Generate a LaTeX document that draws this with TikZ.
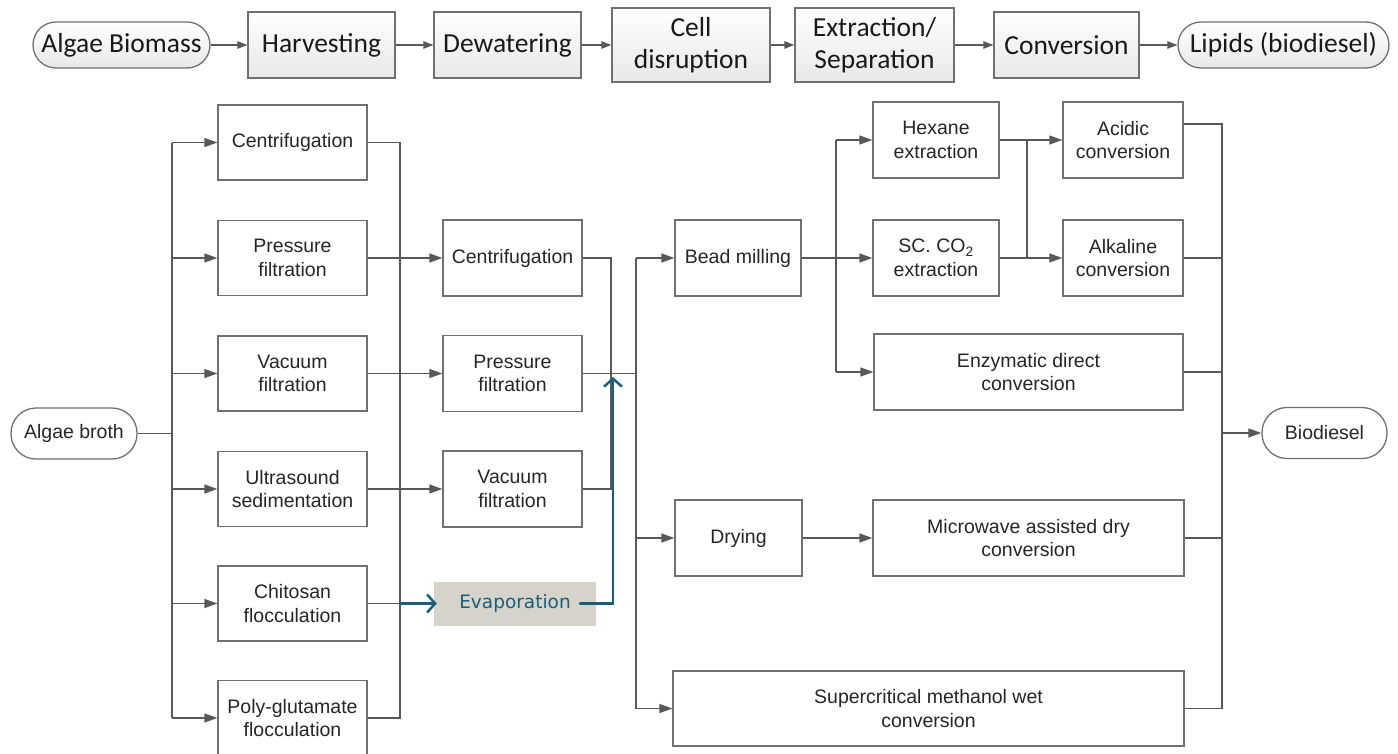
\documentclass[tikz,border=0pt]{standalone}
\usepackage{fontspec}
\setmainfont{Liberation Sans}
\newfontfamily\stagefont{Carlito}
\newfontfamily\notefont{DejaVu Sans}
\usetikzlibrary{arrows.meta,calc}

\definecolor{linegray}{RGB}{88,88,88}
\definecolor{boxgray}{RGB}{112,112,112}
\definecolor{noteteal}{RGB}{27,94,122}
\definecolor{notefill}{RGB}{214,211,203}

\begin{document}
\begin{tikzpicture}[x=1bp,y=-1bp,
  sz/.style 2 args={minimum width=#1bp, minimum height=#2bp},
  flow/.style={draw=boxgray, line width=1.3bp, fill=white, align=center,
    inner sep=0pt, text=black!85, font=\fontsize{19.5bp}{23.5bp}\selectfont},
  endpill/.style={flow, rounded corners=25bp},
  stage/.style={draw=boxgray, line width=1.3bp, top color=white, bottom color=gray!18,
    align=center, inner sep=0pt, text=black!90,
    font=\stagefont\fontsize{27.5bp}{32bp}\selectfont},
  stagepill/.style={stage, rounded corners=23bp},
  ln/.style={draw=linegray, line width=1.3bp},
  arr/.style={ln, -{Triangle[length=13bp,width=9bp]}},
  toparr/.style={ln, -{Triangle[length=10bp,width=7.5bp]}},
  tealarr/.style={draw=noteteal, line width=2.5bp, line cap=round,
    -{Straight Barb[length=8bp,width=18bp,line width=2.5bp]}},
  note/.style={fill=notefill, inner sep=0pt, text=noteteal,
    font=\notefont\fontsize{18.5bp}{22bp}\selectfont}
]
\useasboundingbox (0,0) rectangle (1398,753);

% ---------- overview row ----------
\node[stagepill, sz={177}{46}] (bio)  at (121.5,45) {Algae Biomass};
\node[stage, sz={147}{66}]     (harv) at (321.5,45) {Harvesting};
\node[stage, sz={147}{66}]     (dew)  at (507.5,45) {Dewatering};
\node[stage, sz={158}{74}]     (cell) at (691,45)   {Cell\\disruption};
\node[stage, sz={159}{74}]     (extr) at (874.5,45) {Extraction/\\Separation};
\node[stage, sz={145}{66}]     (conv) at (1066.5,45){Conversion};
\node[stagepill, sz={211}{46}] (lip)  at (1283.5,45){Lipids (biodiesel)};

\draw[toparr] (bio)  -- (harv);
\draw[toparr] (harv) -- (dew);
\draw[toparr] (dew)  -- (cell);
\draw[toparr] (cell) -- (extr);
\draw[toparr] (extr) -- (conv);
\draw[toparr] (conv) -- (lip);

% ---------- harvesting options ----------
\node[endpill, sz={126}{51}] (broth) at (74,433.5) {Algae broth};

\node[flow, sz={149}{75}] (L1) at (292.5,142.5) {Centrifugation};
\node[flow, sz={149}{75}] (L2) at (292.5,258)   {Pressure\\filtration};
\node[flow, sz={149}{75}] (L3) at (292.5,373.5) {Vacuum\\filtration};
\node[flow, sz={149}{75}] (L4) at (292.5,489)   {Ultrasound\\sedimentation};
\node[flow, sz={149}{75}] (L5) at (292.5,603.5) {Chitosan\\flocculation};
\node[flow, sz={149}{75}] (L6) at (292.5,718)   {Poly-glutamate\\flocculation};

% ---------- dewatering options ----------
\node[flow, sz={139}{76}] (M1) at (512.5,258)   {Centrifugation};
\node[flow, sz={139}{76}] (M2) at (512.5,373.5) {Pressure\\filtration};
\node[flow, sz={139}{76}] (M3) at (512.5,489)   {Vacuum\\filtration};
\node[note, sz={162}{44}] (evap) at (515,603.5) {Evaporation};

% ---------- disruption, extraction, conversion ----------
\node[flow, sz={126}{76}] (bead)  at (738,258)    {Bead milling};
\node[flow, sz={127}{76}] (dry)   at (738.5,538)  {Drying};
\node[flow, sz={511}{75}] (super) at (928.5,708.5){Supercritical methanol wet\\conversion};
\node[flow, sz={126}{76}] (hex)   at (936,140)    {Hexane\\extraction};
\node[flow, sz={126}{76}] (sco)   at (936,258)    {SC. CO\textsubscript{2}\\extraction};
\node[flow, sz={309}{76}] (enz)   at (1028.5,372) {Enzymatic direct\\conversion};
\node[flow, sz={120}{76}] (acid)  at (1123,140)   {Acidic\\conversion};
\node[flow, sz={120}{76}] (alk)   at (1123,258)   {Alkaline\\conversion};
\node[flow, sz={311}{76}] (micro) at (1028.5,538) {Microwave assisted dry\\conversion};
\node[endpill, sz={125}{51}] (diesel) at (1324.5,433) {Biodiesel};

% bus lines
\coordinate (tA) at (172,0);
\coordinate (tB) at (400,0);
\coordinate (tC) at (611,0);
\coordinate (tD) at (636,0);
\coordinate (tE) at (836,0);
\coordinate (tF) at (1027,0);
\coordinate (tG) at (1222,0);

% broth to harvesting methods
\draw[ln] (broth.east) -- (tA |- broth.east);
\draw[ln] (tA |- L1.west) -- (tA |- L6.west);
\foreach \n in {L1,L2,L3,L4,L5,L6}
  \draw[arr] (tA |- \n.west) -- (\n.west);

% harvesting methods collected
\draw[ln] (L1.east) -- (tB |- L1.east) -- (tB |- L6.east) -- (L6.east);
\foreach \n in {L2,L3,L4,L5}
  \draw[ln] (\n.east) -- (tB |- \n.east);
\foreach \n in {M1,M2,M3}
  \draw[arr] (tB |- \n.west) -- (\n.west);

% dewatering collected
\draw[ln] (M1.east) -- (tC |- M1.east) -- (tC |- M3.east) -- (M3.east);
\draw[ln] (M2.east) -- (tD |- M2.east);
\draw[ln] (tD |- bead.west) -- (tD |- super.west);
\draw[arr] (tD |- bead.west)  -- (bead.west);
\draw[arr] (tD |- dry.west)   -- (dry.west);
\draw[arr] (tD |- super.west) -- (super.west);

% evaporation route
\coordinate (evapout) at (580,603.5);
\coordinate (evaptip) at (613,377);
\draw[tealarr] (tB |- L5.east) -- ($(evap.west)+(3,0)$);
\draw[tealarr] (evapout) -| (evaptip);

% disruption to extraction
\draw[ln] (bead.east) -- (tE |- bead.east);
\draw[ln] (tE |- hex.west) -- (tE |- enz.west);
\draw[arr] (tE |- hex.west) -- (hex.west);
\draw[arr] (tE |- sco.west) -- (sco.west);
\draw[arr] (tE |- enz.west) -- (enz.west);
\draw[arr] (dry) -- (micro);

% extraction to conversion
\draw[ln] (hex.east) -- (tF |- hex.east);
\draw[ln] (sco.east) -- (tF |- sco.east);
\draw[ln] (tF |- hex.east) -- (tF |- sco.east);
\draw[arr] (tF |- acid.west) -- (acid.west);
\draw[arr] (tF |- alk.west)  -- (alk.west);

% conversion routes to biodiesel
\coordinate (acidout) at ($(acid.east)+(0,-16)$);
\draw[ln] (acidout) -- (tG |- acidout) -- (tG |- super.east) -- (super.east);
\foreach \n in {alk,enz,micro}
  \draw[ln] (\n.east) -- (tG |- \n.east);
\draw[arr] (tG |- diesel.west) -- (diesel.west);
\end{tikzpicture}
\end{document}
